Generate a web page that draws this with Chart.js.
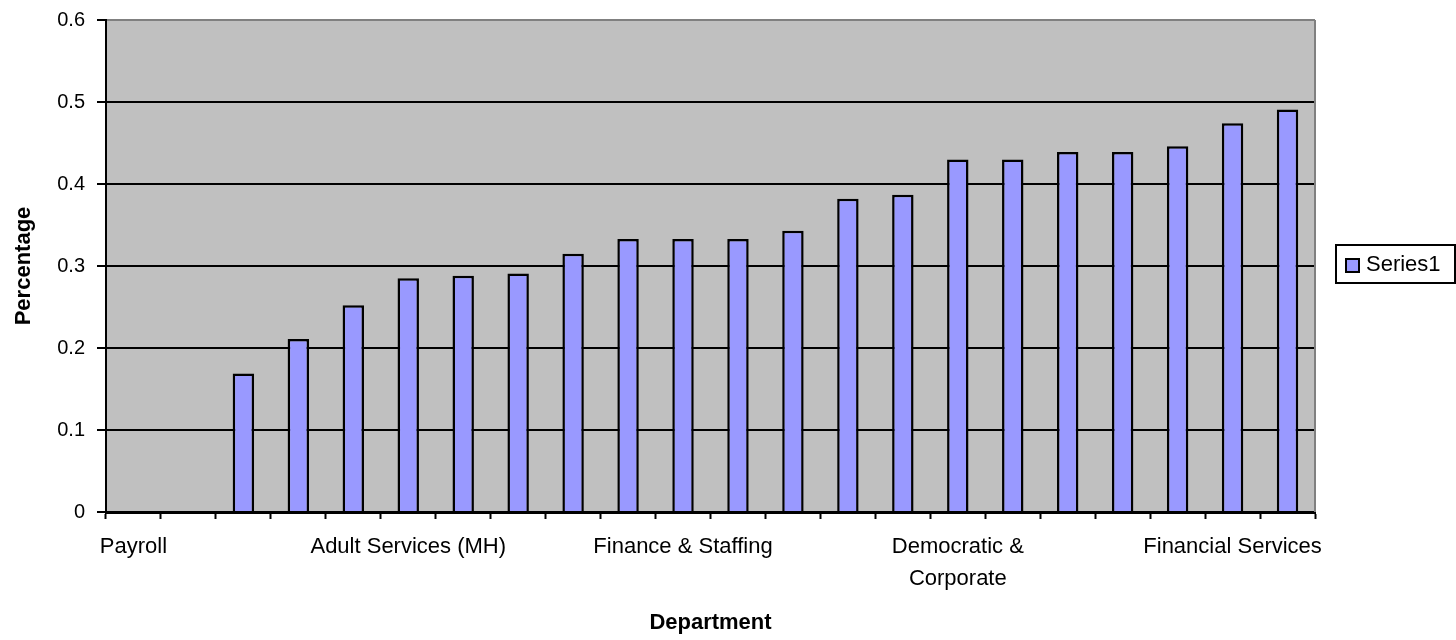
<!DOCTYPE html>
<html>
<head>
<meta charset="utf-8">
<title>Percentage by Department</title>
<script src="https://cdn.jsdelivr.net/npm/chart.js@4.4.1/dist/chart.umd.min.js"></script>
<style>
  html, body { margin: 0; padding: 0; background: #fff; }
  #wrap { width: 1456px; height: 640px; position: relative; }
</style>
</head>
<body>
<div id="wrap"><canvas id="chart"></canvas></div>
<script>
// only every fifth department name shows on the axis
const departments = [
  "Payroll", "", "", "", "",
  "Adult Services (MH)", "", "", "", "",
  "Finance & Staffing", "", "", "", "",
  ["Democratic &", "Corporate"], "", "", "", "",
  "Financial Services", ""
];
const percentages = [
  0, 0, 0.169, 0.211, 0.252, 0.285, 0.288, 0.291, 0.315, 0.333, 0.333,
  0.333, 0.343, 0.382, 0.387, 0.43, 0.43, 0.439, 0.439, 0.446, 0.474, 0.491
];
const yTickLabels = ["0", "0.1", "0.2", "0.3", "0.4", "0.5", "0.6"];
const seriesName = "Series1";

const FONT = "'Liberation Sans', Arial, sans-serif";
const BAR_FILL = "#9999FF";

// grey plot background, grey right edge and the boxed legend
const plotDecor = {
  id: "plotDecor",
  beforeDraw(chart) {
    const { ctx, chartArea: a } = chart;
    ctx.save();
    ctx.fillStyle = "#C0C0C0";
    ctx.fillRect(a.left, a.top, a.right - a.left, a.bottom - a.top);
    ctx.restore();
  },
  afterDraw(chart) {
    const { ctx, chartArea: a } = chart;
    ctx.save();
    ctx.strokeStyle = "#808080";
    ctx.lineWidth = 2;
    ctx.beginPath();
    ctx.moveTo(a.right, a.top);
    ctx.lineTo(a.right, a.bottom);
    ctx.stroke();

    const ds = chart.data.datasets[0];
    const bx = a.right + 21, by = 245, bw = 119, bh = 38;
    ctx.fillStyle = "#fff";
    ctx.fillRect(bx, by, bw, bh);
    ctx.strokeStyle = "#000";
    ctx.lineWidth = 2;
    ctx.strokeRect(bx, by, bw, bh);
    ctx.fillStyle = ds.backgroundColor;
    ctx.fillRect(bx + 10, by + 14, 13, 13);
    ctx.strokeRect(bx + 10, by + 14, 13, 13);
    ctx.fillStyle = "#000";
    ctx.font = "22px " + FONT;
    ctx.textBaseline = "middle";
    ctx.fillText(ds.label, bx + 30, by + bh / 2 + 1);
    ctx.restore();
  }
};

new Chart(document.getElementById("chart"), {
  type: "bar",
  data: {
    labels: departments,
    datasets: [{
      label: seriesName,
      data: percentages,
      backgroundColor: BAR_FILL,
      borderColor: "#000",
      borderWidth: 2.5,
      categoryPercentage: 1,
      barPercentage: 0.39
    }]
  },
  options: {
    responsive: true,
    maintainAspectRatio: false,
    animation: false,
    layout: { padding: { top: 20, right: 141, left: 0, bottom: 0 } },
    plugins: {
      legend: { display: false },
      tooltip: { enabled: false }
    },
    scales: {
      x: {
        grid: { drawOnChartArea: false, drawTicks: true, tickLength: 7, tickColor: "#000", tickWidth: 2 },
        border: { color: "#000", width: 3 },
        ticks: {
          autoSkip: false,
          maxRotation: 0,
          padding: 12,
          color: "#000",
          font: { family: FONT, size: 22, lineHeight: 1.45 }
        },
        title: {
          display: true,
          text: "Department",
          color: "#000",
          font: { family: FONT, size: 22, weight: "bold" },
          padding: { top: 0, bottom: 4 }
        },
        afterFit(scale) { scale.height = 128; }
      },
      y: {
        min: 0,
        max: 0.6,
        grid: {
          color: (c) => (c.tick && c.tick.value >= 0.6 ? "#808080" : "#000"),
          lineWidth: 2,
          tickLength: 9,
          tickColor: "#000"
        },
        border: { color: "#000", width: 2 },
        ticks: {
          stepSize: 0.1,
          padding: 12,
          color: "#000",
          font: { family: FONT, size: 20 },
          callback: (v, i) => yTickLabels[i]
        },
        title: {
          display: true,
          text: "Percentage",
          color: "#000",
          font: { family: FONT, size: 22, weight: "bold" },
          padding: { top: 11, bottom: 0 }
        },
        afterFit(scale) {
          scale.width = 106;
          // let the layout padding alone decide where the plot starts
          scale.paddingTop = 0;
          scale.paddingBottom = 0;
        }
      }
    }
  },
  plugins: [plotDecor]
});
</script>
</body>
</html>
